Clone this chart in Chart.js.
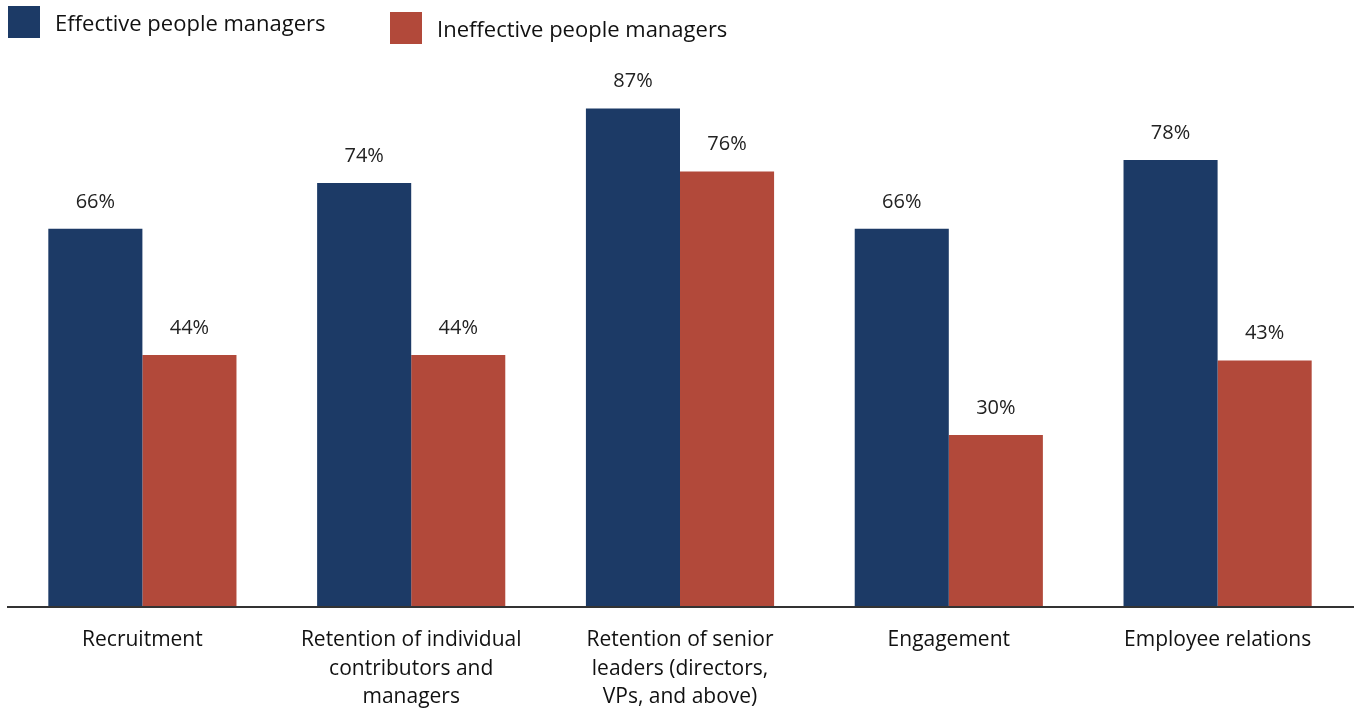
<!DOCTYPE html>
<html lang="en">
<head>
    <meta charset="UTF-8">
    <title>People managers</title>
    <style>
        body {
            margin: 0;
            padding: 0;
            background: #fff;
            font-family: "Open Sans", Arial, sans-serif;
        }

        #wrap {
            position: relative;
            width: 1354px;
            height: 710px;
        }

        .legend-item {
            position: absolute;
            display: flex;
            align-items: center;
            font-size: 22px;
            color: #111;
        }

        .legend-item span.box {
            display: inline-block;
            width: 32px;
            height: 32px;
            margin-right: 15px;
        }
    </style>
</head>
<body>
    <div id="wrap">
        <canvas id="chart" width="1354" height="710"></canvas>
        <div class="legend-item" style="left: 8px; top: 6px;">
            <span class="box" style="background: #1c3a66;"></span>Effective people managers
        </div>
        <div class="legend-item" style="left: 390px; top: 12px;">
            <span class="box" style="background: #b2493a;"></span>Ineffective people managers
        </div>
    </div>

    <script src="https://cdn.jsdelivr.net/npm/chart.js"></script>
    <script>
        // chart data
        const categories = [
            'Recruitment',
            ['Retention of individual', 'contributors and', 'managers'],
            ['Retention of senior', 'leaders (directors,', 'VPs, and above)'],
            'Engagement',
            'Employee relations'
        ];
        const effective = [66, 74, 87, 66, 78];
        const ineffective = [44, 44, 76, 30, 43];

        const FONT = '"Open Sans", Arial, sans-serif';

        // value labels above the bars + baseline drawn over the bars
        const barLabels = {
            id: 'barLabels',
            afterDatasetsDraw(chart) {
                const ctx = chart.ctx;
                ctx.save();
                ctx.font = '20px ' + FONT;
                ctx.fillStyle = '#222';
                ctx.textAlign = 'center';
                ctx.textBaseline = 'middle';
                chart.data.datasets.forEach((ds, i) => {
                    chart.getDatasetMeta(i).data.forEach((bar, j) => {
                        ctx.fillText(ds.data[j] + '%', bar.x, bar.y - 27);
                    });
                });
                const y = chart.chartArea.bottom;
                ctx.strokeStyle = '#333';
                ctx.lineWidth = 2;
                ctx.beginPath();
                ctx.moveTo(7, y);
                ctx.lineTo(chart.width, y);
                ctx.stroke();
                ctx.restore();
            }
        };

        new Chart(document.getElementById('chart'), {
            type: 'bar',
            data: {
                labels: categories,
                datasets: [
                    { label: 'Effective people managers', data: effective, backgroundColor: '#1c3a66' },
                    { label: 'Ineffective people managers', data: ineffective, backgroundColor: '#b2493a' }
                ]
            },
            options: {
                responsive: false,
                animation: false,
                layout: { padding: { left: 8, right: 2, top: 34 } },
                categoryPercentage: 0.7,
                barPercentage: 1,
                plugins: {
                    legend: { display: false },
                    tooltip: { enabled: false }
                },
                scales: {
                    x: {
                        grid: { display: false },
                        border: { display: false },
                        ticks: {
                            color: '#111',
                            padding: 11,
                            maxRotation: 0,
                            font: { family: FONT, size: 21, lineHeight: 1.36 }
                        },
                        afterFit(scale) { scale.height = 103; }
                    },
                    y: {
                        display: false,
                        min: 0,
                        max: 100
                    }
                }
            },
            plugins: [barLabels]
        });
    </script>
</body>
</html>
